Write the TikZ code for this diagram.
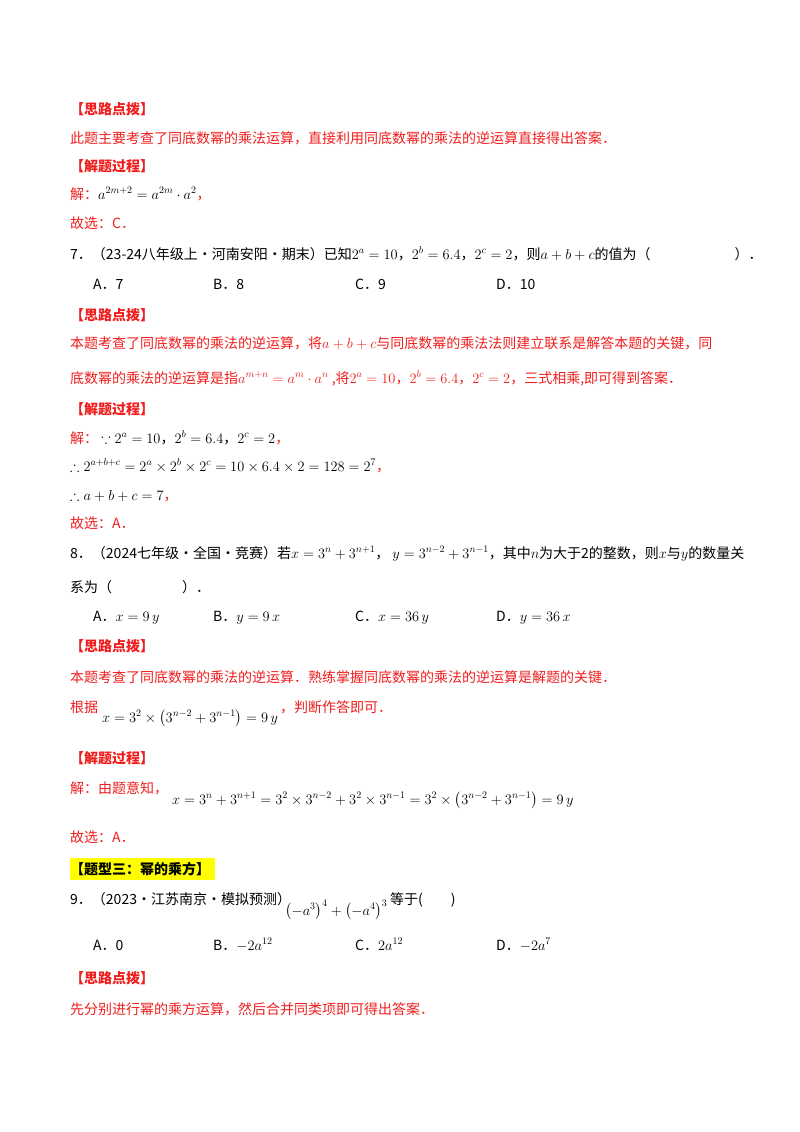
\documentclass[tikz,border=0pt]{standalone}
\usepackage{amssymb}
\usepackage{fontspec}
\setmainfont{Liberation Serif}
\newfontfamily\cjk{Noto Sans CJK SC}
\definecolor{redtxt}{RGB}{240,30,30}
\definecolor{hl}{RGB}{255,255,0}
\begin{document}
\begin{tikzpicture}[x=1pt,y=-1pt,
  every node/.style={anchor=base west,inner sep=0pt,font=\cjk\fontsize{14}{16}\selectfont},
  red/.style={text=redtxt},
  head/.style={text=redtxt,font=\cjk\bfseries\fontsize{14}{16}\selectfont}]
\useasboundingbox[fill=white] (0,0) rectangle (800,1132);
\node[head] (h1) at (70,114) {【思路点拨】};
\node[red] (t1) at (70,143) {此题主要考查了同底数幂的乘法运算，直接利用同底数幂的乘法的逆运算直接得出答案．};
\node[head] (h2) at (70,171) {【解题过程】};
\node[red] (t2) at (70,199) {解：\textcolor{black}{$a^{2m+2}=a^{2m}\cdot a^{2}$}，};
\node[red] (t3) at (70,228) {故选：C．};
\node (q7) at (70,259) {7．（23-24八年级上·河南安阳·期末）已知$2^a=10$，$2^b=6.4$，$2^c=2$，则$a+b+c$的值为（\hspace{6em}）．};
\node (a7) at (93,289) {A．7};
\node (b7) at (213,289) {B．8};
\node (c7) at (355,289) {C．9};
\node (d7) at (496,289) {D．10};
\node[head] (h3) at (70,320) {【思路点拨】};
\node[red] (t4) at (70,348) {本题考查了同底数幂的乘法的逆运算，将$a+b+c$与同底数幂的乘法法则建立联系是解答本题的关键，同};
\node[red] (t5) at (70,383) {底数幂的乘法的逆运算是指$a^{m+n}=a^m\cdot a^n$ ,将$2^a=10$，$2^b=6.4$，$2^c=2$，三式相乘,即可得到答案．};
\node[head] (h4) at (70,414) {【解题过程】};
\node[red] (t6) at (70,443) {解：\textcolor{black}{\ $\because 2^a=10$，$2^b=6.4$，$2^c=2$}，};
\node (t7) at (70,471) {$\therefore 2^{a+b+c}=2^a\times2^b\times2^c=10\times6.4\times2=128=2^7$\textcolor{redtxt}{，}};
\node (t8) at (70,500) {$\therefore a+b+c=7$\textcolor{redtxt}{，}};
\node[red] (t9) at (70,528) {故选：A．};
\node (q8) at (70,558) {8．（2024七年级·全国·竞赛）若$x=3^n+3^{n+1}$，\ $y=3^{n-2}+3^{n-1}$，其中$n$为大于2的整数，则$x$与$y$的数量关};
\node (q8b) at (70,592) {系为（\hspace{5em}）．};
\node (a8) at (93,621) {A．$x=9\,y$};
\node (b8) at (213,621) {B．$y=9\,x$};
\node (c8) at (355,621) {C．$x=36\,y$};
\node (d8) at (496,621) {D．$y=36\,x$};
\node[head] (h5) at (70,651) {【思路点拨】};
\node[red] (t10) at (70,682) {本题考查了同底数幂的乘法的逆运算．熟练掌握同底数幂的乘法的逆运算是解题的关键．};
\node[red] (t11) at (70,712) {根据};
\node (f11) at (102,722) {$x=3^2\times\left(3^{n-2}+3^{n-1}\right)=9\,y$};
\node[red] (t11b) at (280,712) {，判断作答即可．};
\node[head] (h6) at (70,763) {【解题过程】};
\node[red] (t12) at (70,793) {解：由题意知，};
\node (f12) at (172,804) {$x=3^n+3^{n+1}=3^2\times3^{n-2}+3^2\times3^{n-1}=3^2\times\left(3^{n-2}+3^{n-1}\right)=9\,y$};
\node[red] (t13) at (70,842) {故选：A．};
\fill[hl] (70,858) rectangle (215,880);
\node[font=\cjk\bfseries\fontsize{14}{16}\selectfont] (h7) at (70,874) {【题型三：幂的乘方】};
\node (q9) at (70,904) {9．（2023·江苏南京·模拟预测）};
\node (f9) at (285,915) {$\left(-a^3\right)^4+\left(-a^4\right)^3$};
\node (q9b) at (390,904) {等于(\hspace{2em})};
\node (a9) at (93,950) {A．0};
\node (b9) at (213,950) {B．$-2a^{12}$};
\node (c9) at (355,950) {C．$2a^{12}$};
\node (d9) at (496,950) {D．$-2a^{7}$};
\node[head] (h8) at (70,983) {【思路点拨】};
\node[red] (t14) at (70,1014) {先分别进行幂的乘方运算，然后合并同类项即可得出答案．};
\end{tikzpicture}
\end{document}
